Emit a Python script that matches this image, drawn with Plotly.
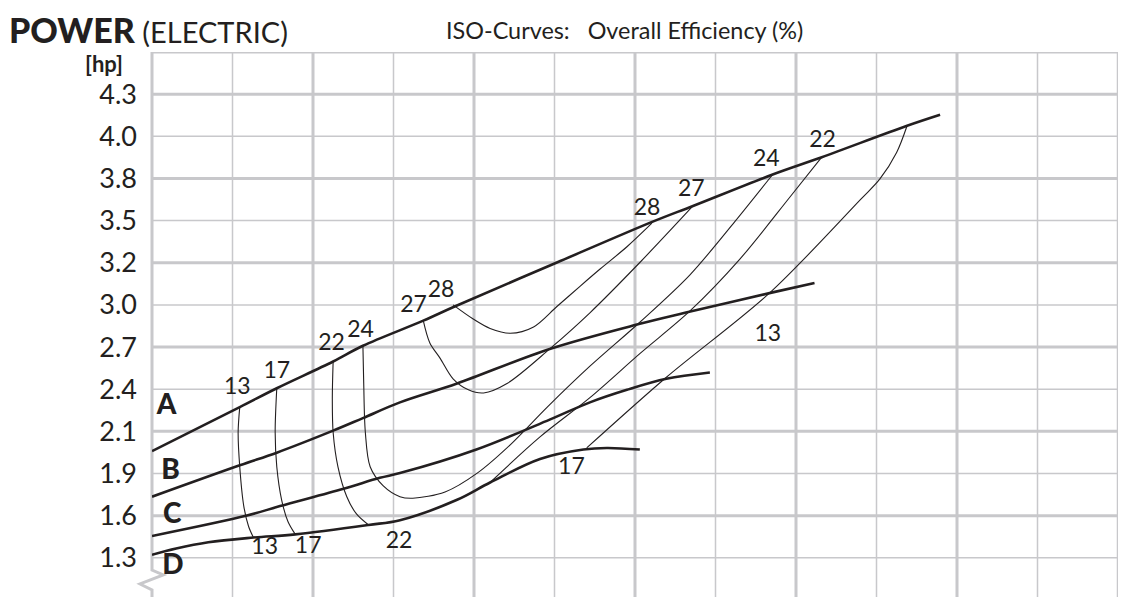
import plotly.graph_objects as go

# ---------------- data ----------------
HP_PER_KW = 1.341
tick_kw = [1.0, 1.2, 1.4, 1.6, 1.8, 2.0, 2.2, 2.4, 2.6, 2.8, 3.0, 3.2]
tick_text = ["1.3", "1.6", "1.9", "2.1", "2.4", "2.7", "3.0", "3.2", "3.5", "3.8", "4.0", "4.3"]
thick_kw = [0.8, 1.2, 1.6, 2.0, 2.4, 2.8, 3.2, 3.4]
thin_kw = [1.0, 1.4, 1.8, 2.2, 2.6, 3.0]

# system curves (x = flow in grid units, y = power hp)
A_x = [0, 1.09, 1.55, 2.25, 2.62, 3.37, 3.76, 5.03, 6.22, 6.72, 7.71, 8.32, 9.38, 9.79]
A_y = [2.02, 2.30, 2.42, 2.59, 2.69, 2.85, 2.94, 3.22, 3.48, 3.58, 3.78, 3.89, 4.09, 4.16]
B_x = [0, 1.09, 1.55, 2.25, 2.62, 3.08, 3.79, 4.94, 6.06, 6.62, 7.71, 8.23]
B_y = [1.73, 1.93, 2.01, 2.15, 2.23, 2.33, 2.45, 2.67, 2.83, 2.90, 3.03, 3.09]
C_x = [0, 1.18, 1.59, 2.38, 2.83, 3.08, 4.03, 4.94, 5.44, 5.90, 6.39, 6.93]
C_y = [1.48, 1.61, 1.67, 1.78, 1.85, 1.88, 2.03, 2.22, 2.33, 2.41, 2.48, 2.52]
D_x = [0, 0.30, 0.70, 1.26, 1.78, 2.69, 3.08, 3.79, 4.20, 4.82, 5.36, 5.65, 6.06]
D_y = [1.36, 1.40, 1.44, 1.47, 1.49, 1.55, 1.58, 1.71, 1.82, 1.97, 2.03, 2.04, 2.03]

# iso-efficiency curves
iso13L_x = [1.09, 1.07, 1.09, 1.14, 1.20, 1.26]
iso13L_y = [2.30, 2.14, 1.92, 1.67, 1.54, 1.47]
iso17L_x = [1.55, 1.53, 1.55, 1.61, 1.69, 1.78]
iso17L_y = [2.42, 2.14, 1.92, 1.71, 1.57, 1.49]
iso22L_x = [2.25, 2.24, 2.25, 2.31, 2.42, 2.54, 2.69]
iso22L_y = [2.59, 2.35, 2.14, 1.92, 1.73, 1.62, 1.55]
iso22R_x = [4.20, 4.82, 5.44, 6.06, 6.68, 7.30, 7.93, 8.32]
iso22R_y = [1.82, 2.11, 2.36, 2.64, 2.91, 3.24, 3.64, 3.89]
iso24_x = [2.62, 2.63, 2.65, 2.71, 2.87, 3.08, 3.24, 3.64, 4.04, 4.45, 4.91, 5.44, 6.06, 6.68, 7.24, 7.71]
iso24_y = [2.69, 2.45, 2.14, 1.92, 1.80, 1.73, 1.72, 1.76, 1.88, 2.06, 2.30, 2.56, 2.84, 3.14, 3.48, 3.78]
iso27_x = [3.37, 3.45, 3.58, 3.74, 3.93, 4.12, 4.41, 4.94, 5.44, 6.06, 6.72]
iso27_y = [2.85, 2.71, 2.61, 2.48, 2.41, 2.39, 2.45, 2.67, 2.90, 3.22, 3.58]
iso28_x = [3.74, 3.99, 4.20, 4.45, 4.74, 5.03, 5.32, 5.57, 5.90, 6.21]
iso28_y = [2.95, 2.86, 2.80, 2.77, 2.81, 2.94, 3.07, 3.18, 3.32, 3.47]
iso13R_x = [5.40, 6.39, 7.68, 8.80, 9.04, 9.25, 9.38]
iso13R_y = [2.04, 2.49, 3.03, 3.62, 3.75, 3.92, 4.09]

# curve value labels
lab_text = ["13", "17", "22", "24", "27", "28", "28", "27", "24", "22", "13", "17", "13", "17", "22"]
lab_x = [1.06, 1.55, 2.23, 2.59, 3.25, 3.59, 6.15, 6.70, 7.63, 8.33, 7.65, 5.21, 1.40, 1.94, 3.07]
lab_y = [2.42, 2.52, 2.70, 2.78, 2.94, 3.04, 3.56, 3.68, 3.87, 3.99, 2.76, 1.91, 1.40, 1.41, 1.44]

sys_names = ["A", "B", "C", "D"]
sys_lab_x = [0.18, 0.23, 0.25, 0.26]
sys_lab_y = [2.30, 1.89, 1.61, 1.28]

# ---------------- figure ----------------
INK = "#231f20"
GRID = "#c8c8cb"
FONT = "Lato"

fig = go.Figure()

for xs, ys in [(A_x, A_y), (B_x, B_y), (C_x, C_y), (D_x, D_y)]:
    fig.add_trace(go.Scatter(x=xs, y=ys, mode="lines",
                             line=dict(color=INK, width=2.6, shape="spline", smoothing=1.0),
                             hoverinfo="skip", showlegend=False))

for xs, ys in [(iso13L_x, iso13L_y), (iso17L_x, iso17L_y), (iso22L_x, iso22L_y),
               (iso22R_x, iso22R_y), (iso24_x, iso24_y), (iso27_x, iso27_y),
               (iso28_x, iso28_y), (iso13R_x, iso13R_y)]:
    fig.add_trace(go.Scatter(x=xs, y=ys, mode="lines",
                             line=dict(color=INK, width=1.1, shape="spline", smoothing=0.9),
                             hoverinfo="skip", showlegend=False))

fig.add_trace(go.Scatter(x=lab_x, y=lab_y, mode="text", text=lab_text,
                         textfont=dict(family=FONT, size=23, color=INK),
                         hoverinfo="skip", showlegend=False))
fig.add_trace(go.Scatter(x=sys_lab_x, y=sys_lab_y, mode="text", text=sys_names,
                         textfont=dict(family=FONT, size=28, color=INK, weight=900),
                         hoverinfo="skip", showlegend=False))

shapes = []
# vertical grid
for i in range(1, 12):
    shapes.append(dict(type="line", xref="x", yref="paper", x0=i, x1=i, y0=0, y1=1,
                       line=dict(color=GRID, width=3 if i % 2 == 0 else 1.5), layer="below"))
shapes.append(dict(type="line", xref="x", yref="paper", x0=12, x1=12, y0=0, y1=1,
                   line=dict(color=GRID, width=2.5), layer="below"))
# horizontal grid
for k in thick_kw:
    shapes.append(dict(type="line", xref="x", yref="y", x0=0, x1=12,
                       y0=k * HP_PER_KW, y1=k * HP_PER_KW,
                       line=dict(color=GRID, width=3), layer="below"))
for k in thin_kw:
    shapes.append(dict(type="line", xref="x", yref="y", x0=0, x1=12,
                       y0=k * HP_PER_KW, y1=k * HP_PER_KW,
                       line=dict(color=GRID, width=1.5), layer="below"))
# left axis with break mark
shapes.append(dict(type="path", xref="paper", yref="paper",
                   path="M 0,1 L 0,0.0495 L 0.0117,0.0404 L -0.0124,0.0239 L 0,0.0128 L 0,0",
                   line=dict(color=GRID, width=3), layer="below"))

annotations = [
    dict(xref="paper", yref="paper", x=-0.150, y=1.041, xanchor="left", yanchor="middle",
         text="<span style='font-size:34px;font-weight:900'>POWER</span>"
              "<span style='font-size:29px'> (ELECTRIC)</span>",
         showarrow=False, font=dict(family=FONT, color=INK)),
    dict(xref="paper", yref="paper", x=-0.028, y=0.979, xanchor="right", yanchor="middle",
         text="<b>[hp]</b>", showarrow=False, font=dict(family=FONT, size=22, color=INK)),
    dict(xref="paper", yref="paper", x=0.3023, y=1.041, xanchor="left", yanchor="middle",
         text="ISO-Curves:\u00a0\u00a0\u00a0Overall Efficiency (%)", showarrow=False,
         font=dict(family=FONT, size=23.4, color=INK)),
]

# page body has an 8px margin: shrink the figure so the plot lands where it should
fig.update_layout(
    width=1119, height=589,
    margin=dict(l=144, r=9, t=44, b=0),
    paper_bgcolor="white", plot_bgcolor="white",
    shapes=shapes, annotations=annotations,
    showlegend=False,
    xaxis=dict(range=[0, 12], showgrid=False, zeroline=False, showticklabels=False,
               showline=False, ticks=""),
    yaxis=dict(range=[0.814 * HP_PER_KW, 3.4 * HP_PER_KW], showgrid=False, zeroline=False,
               tickmode="array", tickvals=[k * HP_PER_KW for k in tick_kw], ticktext=tick_text,
               tickfont=dict(family=FONT, size=27, color=INK), ticks="",
               ticklabelstandoff=14, showline=False),
)

fig.write_html("out.html")
